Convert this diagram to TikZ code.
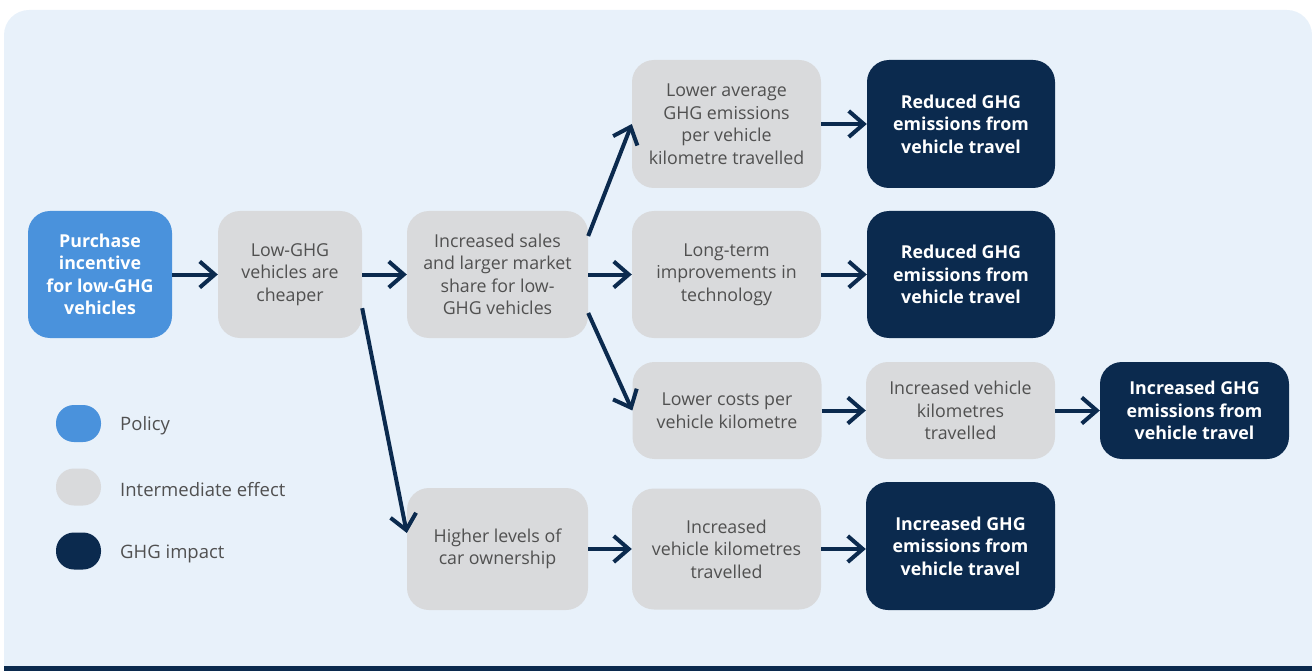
\documentclass[tikz,border=0pt]{standalone}
\usepackage{fontspec}
\setmainfont{Open Sans}
\usepackage{xcolor}
\usetikzlibrary{arrows.meta}

\definecolor{bgblue}{HTML}{E8F1FA}
\definecolor{policyblue}{HTML}{4A92DC}
\definecolor{effectgray}{HTML}{D9DADC}
\definecolor{impactnavy}{HTML}{0B2A4E}
\definecolor{textgray}{HTML}{505050}

\tikzset{
  box/.style={rounded corners=22pt,align=center,inner sep=0pt,
    font=\fontsize{17.8}{22.5}\selectfont},
  policybox/.style={box,fill=policyblue,text=white,
    font=\bfseries\fontsize{17.8}{22.5}\selectfont},
  effectbox/.style={box,fill=effectgray,text=textgray},
  impactbox/.style={box,fill=impactnavy,text=white,
    font=\bfseries\fontsize{17.8}{22.5}\selectfont},
  pill/.style={rounded corners=18pt,inner sep=0pt,minimum width=45pt,minimum height=37pt},
  keytext/.style={anchor=west,inner sep=0pt,text=textgray,font=\fontsize{18.5}{21}\selectfont},
  arrow/.style={draw=impactnavy,line width=4pt,-{Straight Barb[length=15pt,width=26pt]}}
}

\begin{document}
\begin{tikzpicture}[x=1pt,y=-1pt]
  \useasboundingbox (0,0) rectangle (1312,671);
  % panel
  \fill[bgblue] (4,666) [rounded corners=25pt] -- (4,10) -- (1312,10) [sharp corners] -- (1312,666) -- cycle;
  \fill[impactnavy] (4,666) rectangle (1312,671);

  % boxes
  \node[policybox,minimum width=144pt,minimum height=127pt] (policy) at (100,274.5) {Purchase\\incentive\\for low-GHG\\vehicles};
  \node[effectbox,minimum width=144pt,minimum height=127pt] (cheap) at (290,274.5) {Low-GHG\\vehicles are\\cheaper};
  \node[effectbox,minimum width=181pt,minimum height=127pt] (sales) at (497.5,274.5) {Increased sales\\and larger market\\share for low-\\GHG vehicles};
  \node[effectbox,minimum width=189pt,minimum height=128pt] (lowavg) at (726.5,124) {Lower average\\GHG emissions\\per vehicle\\kilometre travelled};
  \node[impactbox,minimum width=188pt,minimum height=128pt] (reduceda) at (961,124) {Reduced GHG\\emissions from\\vehicle travel};
  \node[effectbox,minimum width=189pt,minimum height=127pt] (longterm) at (726.5,274.5) {Long-term\\improvements in\\technology};
  \node[impactbox,minimum width=188pt,minimum height=127pt] (reducedb) at (961,274.5) {Reduced GHG\\emissions from\\vehicle travel};
  \node[effectbox,minimum width=189pt,minimum height=97pt] (lowcost) at (727,410.5) {Lower costs per\\vehicle kilometre};
  \node[effectbox,minimum width=189pt,minimum height=97pt] (vkma) at (960.5,410.5) {Increased vehicle\\kilometres\\travelled};
  \node[impactbox,minimum width=189pt,minimum height=97pt] (incghga) at (1194.5,410.5) {Increased GHG\\emissions from\\vehicle travel};
  \node[effectbox,minimum width=181pt,minimum height=122pt] (higher) at (497.5,549) {Higher levels of\\car ownership};
  \node[effectbox,minimum width=189pt,minimum height=121pt] (vkmb) at (726.5,549) {Increased\\vehicle kilometres\\travelled};
  \node[impactbox,minimum width=189pt,minimum height=128pt] (incghgb) at (960.5,546) {Increased GHG\\emissions from\\vehicle travel};

  % connectors
  \draw[arrow] (policy) -- (cheap);
  \draw[arrow] (cheap) -- (sales);
  \draw[arrow] (cheap.-25) -- (higher.170);
  \draw[arrow] (sales.23) -- (lowavg.west);
  \draw[arrow] (sales) -- (longterm);
  \draw[arrow] (sales.-23) -- (lowcost.west);
  \draw[arrow] (lowavg) -- (reduceda);
  \draw[arrow] (longterm) -- (reducedb);
  \draw[arrow] (lowcost) -- (vkma);
  \draw[arrow] (vkma) -- (incghga);
  \draw[arrow] (higher) -- (vkmb);
  \draw[arrow] (vkmb.east) -- (vkmb.east -| incghgb.west);

  % key
  \node[pill,fill=policyblue] (keypolicy) at (78.5,423.5) {};
  \node[pill,fill=effectgray] (keyeffect) at (78.5,487) {};
  \node[pill,fill=impactnavy] (keyimpact) at (78.5,551) {};
  \node[keytext] (keypolicytext) at (120,426) {Policy};
  \node[keytext] (keyeffecttext) at (120,490) {Intermediate effect};
  \node[keytext] (keyimpacttext) at (120,554) {GHG impact};
\end{tikzpicture}
\end{document}
